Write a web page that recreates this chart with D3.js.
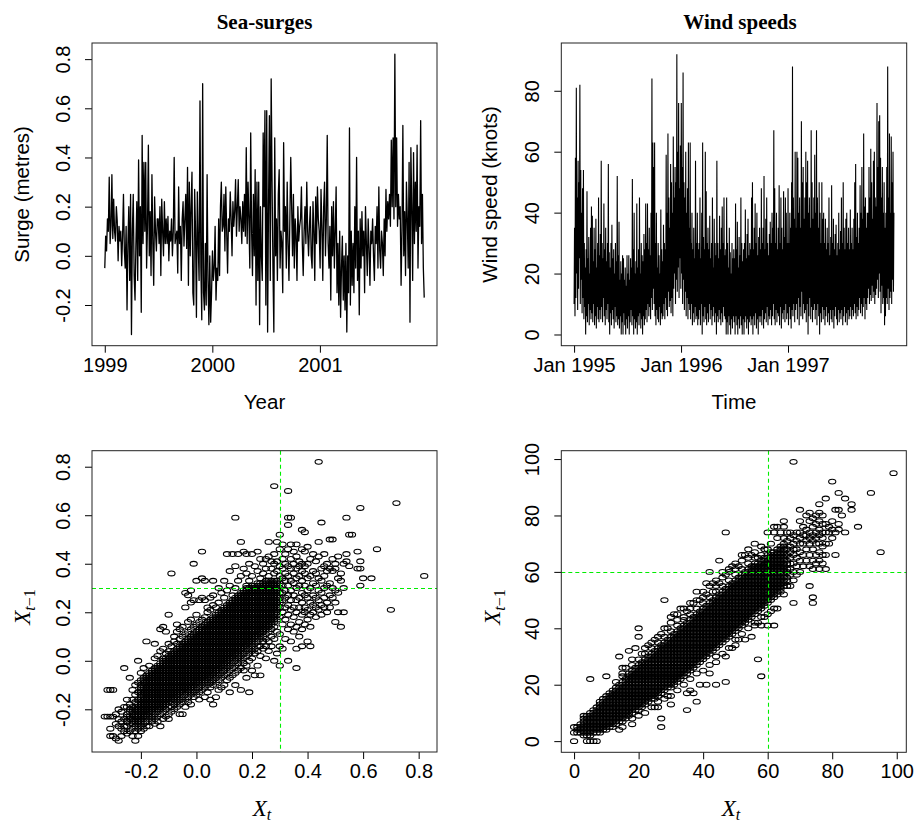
<!DOCTYPE html>
<html><head><meta charset="utf-8">
<script src="https://cdn.jsdelivr.net/npm/d3@7"></script>
<style>body{margin:0;background:#fff}</style>
</head><body>
<svg id="c" width="915" height="826"></svg>
<script>
// ---------------- DATA ----------------
// Sea surge series (metres), 1999.0 .. 2001.97
const surgeStart = 1999.0, surgeEnd = 2001.97;
const surge = [
-.05,.08,.02,.15,.1,.32,.05,.12,.33,.07,
.23,.1,.06,.2,.14,-.02,.12,.06,.1,-.04,
.08,.25,.02,-.05,.12,-.22,.05,.2,-.1,.25,
-.32,.1,.25,-.08,-.18,.05,.22,-.1,.39,0,
.2,-.23,.49,.05,.38,.1,.38,-.05,.12,.45,
0,.18,-.08,.33,.05,-.12,.24,.1,.02,.15,
.15,.05,.2,-.08,.23,.1,0,.22,.05,.15,
.05,.16,-.02,.1,.06,.15,0,.1,.4,.05,
.08,.1,-.07,.28,.05,.12,-.1,.15,.22,.04,
.15,.25,.03,.36,-.12,.3,0,.2,.34,-.15,
-.2,.27,.1,-.25,.26,.05,-.1,.63,-.05,-.26,
.7,-.15,-.22,.05,-.2,.33,-.1,-.28,0,-.27,
-.15,.02,-.1,-.05,.12,-.18,-.05,-.1,.15,-.08,
.2,.3,.1,.12,.25,.02,.28,.1,-.07,.15,
.1,.26,.15,0,.22,.12,.18,.31,.08,.2,
.31,.1,.2,.15,.05,.22,.1,.25,.08,.44,
.05,.3,.15,-.05,.5,.1,-.08,.25,0,.35,
-.2,.3,-.1,.3,-.28,.2,0,-.1,.5,.2,
.59,-.2,.59,-.31,.2,.57,-.1,.72,.3,-.05,
-.31,.48,0,.15,-.1,.25,.35,-.05,.1,.05,
-.15,.46,.1,.2,-.05,.3,.05,-.1,.15,.4,
.2,0,.25,-.05,.15,.08,-.1,.2,.06,.12,
.15,.28,.05,-.08,.1,.2,.05,.3,.1,0,
.12,.2,0,-.05,.22,.1,-.1,.24,.05,.28,
.15,.1,-.05,.27,.12,-.1,.2,.3,0,.15,
.49,.05,-.05,.12,-.18,.2,0,.22,-.05,.1,
.28,-.15,.05,-.2,.1,-.25,-.05,.08,-.18,0,
-.22,.05,-.31,0,-.15,.52,-.2,.1,-.12,.05,
-.15,.2,-.05,.4,-.1,.1,-.24,.15,-.05,.18,
0,.1,-.15,.2,.05,-.08,.15,.03,-.12,.1,
.05,.15,0,-.1,.12,.05,.2,-.05,.28,.02,
-.05,.1,.05,-.08,.15,0,.27,.1,.22,.15,
.25,.12,.47,.2,.48,.15,.82,.2,.48,.12,
.25,.15,.2,-.12,.1,.53,0,.18,-.08,.3,
.15,-.05,.38,-.27,.44,.2,-.1,.42,.05,.3,
.1,.45,-.05,.2,.12,.55,.05,.25,-.05,-.17
];

// Wind speed series (knots), Jan 1995 .. Dec 1997
const windStart = 1995.0, windEnd = 1997.99;
const wind = [
10,35,6,58,12,81,20,45,8,57,15,50,25,82,10,54,18,40,7,48,
12,54,5,30,9,22,0,28,6,47,4,25,10,32,3,20,8,35,5,42,
7,39,4,24,10,35,3,28,6,38,2,22,9,30,5,45,4,26,8,33,
5,57,9,30,4,25,12,43,6,28,3,35,8,24,5,30,10,56,4,27,
0,22,7,30,3,36,8,25,5,28,2,20,9,30,4,24,6,52,3,26,
5,37,2,18,6,24,0,20,4,26,0,25,7,18,3,22,0,16,5,26,
2,20,6,26,0,18,4,25,8,22,3,51,6,28,0,40,5,20,2,24,
4,43,0,22,6,28,3,45,7,20,2,30,5,26,0,24,6,33,3,28,
5,43,8,30,4,43,10,28,6,35,9,26,5,40,12,84,8,63,15,55,
10,63,6,30,3,40,8,22,5,30,4,26,9,20,3,41,7,28,5,24,
6,36,10,30,5,28,12,59,8,40,6,66,14,45,9,35,11,56,7,50,
12,40,6,65,15,45,20,55,10,50,18,92,14,60,22,76,12,48,25,62,
15,76,20,55,10,86,18,50,8,45,14,60,6,40,12,48,5,63,10,35,
8,63,5,30,10,40,3,28,7,35,4,25,9,57,5,30,6,40,3,28,
5,30,8,45,3,25,10,40,0,63,6,32,4,28,9,60,5,47,3,30,
7,35,4,28,10,39,5,25,8,30,3,45,6,22,9,38,4,30,7,26,
0,57,6,30,4,25,8,39,5,28,3,35,7,42,4,30,9,45,6,26,
5,28,0,45,4,30,0,22,6,35,3,27,0,20,5,30,2,25,6,28,
4,25,0,43,6,28,3,37,0,22,5,32,2,26,6,45,3,30,0,24,
5,28,0,30,4,41,6,25,2,33,5,38,0,26,4,30,6,28,3,45,
5,50,0,28,6,35,3,43,7,30,2,40,5,26,0,32,6,35,4,28,
6,48,3,30,8,35,2,52,5,28,7,38,4,45,9,30,3,26,6,33,
5,37,8,30,3,40,6,35,10,67,5,48,3,30,8,40,4,28,7,35,
6,49,3,30,9,45,2,35,7,28,5,47,8,32,4,45,10,40,5,30,
7,48,3,30,9,40,5,35,2,50,8,88,6,45,10,38,4,60,8,35,
10,60,5,58,12,40,3,45,9,35,6,70,14,50,5,55,10,38,7,45,
8,60,4,50,10,57,0,40,6,45,12,35,5,67,9,50,4,38,8,45,
10,59,5,40,8,67,3,45,10,35,6,50,0,40,7,30,4,50,9,38,
5,40,8,30,3,38,6,28,9,35,4,30,7,45,3,26,8,32,5,49,
4,30,8,38,2,28,6,33,9,36,5,26,3,30,8,40,4,28,7,34,
5,45,8,30,3,50,6,35,9,28,4,38,7,40,3,30,8,35,5,28,
6,41,9,30,5,35,8,28,6,38,10,50,7,56,5,32,9,40,6,30,
8,35,12,49,7,40,10,55,6,38,9,66,12,42,5,45,10,35,8,40,
12,40,15,55,10,45,13,61,11,50,16,38,12,57,14,60,10,45,13,42,
15,76,18,55,12,70,20,72,14,58,7,45,16,55,10,40,12,50,3,35,
6,40,12,55,10,88,15,45,8,66,12,40,14,65,10,50,18,60,14,40
];

// Lag plot of sea surge: X_t values and, for each, the X_{t-1} values seen
const surgeLagX = [-.33,-.32,-.31,-.30,-.29,-.28,-.27,-.26,-.25,-.24,-.23,-.22,-.21,-.20,-.19,-.18,-.17,-.16,-.15,-.14,-.13,-.12,-.11,-.10,-.09,-.08,-.07,-.06,-.05,-.04,-.03,-.02,-.01,0,
.01,.02,.03,.04,.05,.06,.07,.08,.09,.10,.11,.12,.13,.14,.15,.16,.17,.18,.19,.20,.21,.22,.23,.24,.25,.26,.27,.28,.29,.30,
.31,.32,.33,.34,.35,.36,.37,.38,.39,.40,.41,.42,.43,.44,.45,.46,.47,.48,.49,.50,.51,.52,.53,.54,.55,.56,.58,.59,.60,.63,.65,.70,.72,.82];
const surgeLagY = [
[-.23],
[-.23,-.12],
[-.31,-.28,-.23,-.12],
[-.31,-.23,-.12],
[-.32,-.26,-.22],
[-.33,-.27,-.24,-.2],
[-.31,-.28,-.25,-.21],
[-.29,-.27,-.24,-.19,-.03],
[-.3,-.27,-.25,-.23,-.22,-.19,-.16],
[-.29,-.26,-.24,-.23,-.21,-.2,-.18,-.07],
[-.31,-.28,-.26,-.25,-.24,-.22,-.21,-.19,-.16,-.12],
[-.33,-.29,-.27,-.25,-.24,-.23,-.22,-.21,-.2,-.19,-.17,-.14,-.1],
[-.31,-.28,-.26,-.25,-.24,-.23,-.22,-.21,-.2,-.19,-.18,-.16,-.13,-.09,0],
[-.29,-.27,-.25,-.24,-.23,-.22,-.21,-.2,-.19,-.18,-.17,-.16,-.15,-.14,-.13,-.12,-.11,-.1,-.08,-.05],
[-.28,-.26,-.24,-.23,-.22,-.21,-.2,-.19,-.18,-.17,-.16,-.15,-.14,-.13,-.12,-.11,-.1,-.09,-.08,-.07,-.03],
[-.27,-.25,-.23,-.22,-.21,-.2,-.19,-.18,-.17,-.16,-.15,-.14,-.13,-.12,-.11,-.1,-.09,-.08,-.07,-.06,.08],
[-.27,-.24,-.22,-.21,-.2,-.19,-.18,-.17,-.16,-.15,-.14,-.13,-.12,-.11,-.1,-.09,-.08,-.07,-.06,-.05,-.02],
[-.25,-.23,-.21,-.2,-.19,-.18,-.17,-.16,-.15,-.14,-.13,-.12,-.11,-.1,-.09,-.08,-.07,-.06,-.05,-.04],
[-.26,-.24,-.22,-.2,-.19,-.18,-.17,-.16,-.15,-.14,-.13,-.12,-.11,-.1,-.09,-.08,-.07,-.06,-.05,-.04,-.03,.01,.07],
[-.25,-.23,-.21,-.2,-.19,-.18,-.17,-.16,-.15,-.14,-.13,-.12,-.11,-.1,-.09,-.08,-.07,-.06,-.05,-.04,-.03,-.02,.02],
[-.27,-.22,-.2,-.19,-.18,-.17,-.16,-.15,-.14,-.13,-.12,-.11,-.1,-.09,-.08,-.07,-.06,-.05,-.04,-.03,-.02,-.01,.04,.13],
[-.24,-.21,-.19,-.18,-.17,-.16,-.15,-.14,-.13,-.12,-.11,-.1,-.09,-.08,-.07,-.06,-.05,-.04,-.03,-.02,-.01,0,.01,.05,.14],
[-.23,-.2,-.18,-.17,-.16,-.15,-.14,-.13,-.12,-.11,-.1,-.09,-.08,-.07,-.06,-.05,-.04,-.03,-.02,-.01,0,.01,.03,.12],
[-.24,-.22,-.19,-.17,-.16,-.15,-.14,-.13,-.12,-.11,-.1,-.09,-.08,-.07,-.06,-.05,-.04,-.03,-.02,-.01,0,.01,.02,.04,.07,.19],
[-.21,-.19,-.17,-.16,-.15,-.14,-.13,-.12,-.11,-.1,-.09,-.08,-.07,-.06,-.05,-.04,-.03,-.02,-.01,0,.01,.02,.03,.06,.36],
[-.2,-.18,-.16,-.15,-.14,-.13,-.12,-.11,-.1,-.09,-.08,-.07,-.06,-.05,-.04,-.03,-.02,-.01,0,.01,.02,.03,.04,.08,.1],
[-.19,-.17,-.15,-.14,-.13,-.12,-.11,-.1,-.09,-.08,-.07,-.06,-.05,-.04,-.03,-.02,-.01,0,.01,.02,.03,.04,.05,.07,.12,.15],
[-.22,-.18,-.16,-.14,-.13,-.12,-.11,-.1,-.09,-.08,-.07,-.06,-.05,-.04,-.03,-.02,-.01,0,.01,.02,.03,.04,.05,.06,.09,.13],
[-.22,-.17,-.15,-.13,-.12,-.11,-.1,-.09,-.08,-.07,-.06,-.05,-.04,-.03,-.02,-.01,0,.01,.02,.03,.04,.05,.06,.07,.1,.14],
[-.19,-.16,-.14,-.12,-.11,-.1,-.09,-.08,-.07,-.06,-.05,-.04,-.03,-.02,-.01,0,.01,.02,.03,.04,.05,.06,.07,.08,.11,.22,.28],
[-.17,-.15,-.13,-.12,-.11,-.1,-.09,-.08,-.07,-.06,-.05,-.04,-.03,-.02,-.01,0,.01,.02,.03,.04,.05,.06,.07,.08,.09,.12,.16,.27],
[-.18,-.14,-.12,-.11,-.1,-.09,-.08,-.07,-.06,-.05,-.04,-.03,-.02,-.01,0,.01,.02,.03,.04,.05,.06,.07,.08,.09,.1,.13,.17,.24,.29],
[-.15,-.13,-.11,-.1,-.09,-.08,-.07,-.06,-.05,-.04,-.03,-.02,-.01,0,.01,.02,.03,.04,.05,.06,.07,.08,.09,.1,.11,.14,.25,.4],
[-.14,-.12,-.1,-.09,-.08,-.07,-.06,-.05,-.04,-.03,-.02,-.01,0,.01,.02,.03,.04,.05,.06,.07,.08,.09,.1,.11,.12,.15,.19,.33],
[-.16,-.13,-.11,-.09,-.08,-.07,-.06,-.05,-.04,-.03,-.02,-.01,0,.01,.02,.03,.04,.05,.06,.07,.08,.09,.1,.11,.12,.13,.16,.25],
[-.12,-.1,-.08,-.07,-.06,-.05,-.04,-.03,-.02,-.01,0,.01,.02,.03,.04,.05,.06,.07,.08,.09,.1,.11,.12,.13,.14,.17,.26,.34,.45],
[-.15,-.11,-.09,-.08,-.07,-.06,-.05,-.04,-.03,-.02,-.01,0,.01,.02,.03,.04,.05,.06,.07,.08,.09,.1,.11,.12,.13,.14,.15,.18,.25,.33],
[-.13,-.1,-.08,-.07,-.06,-.05,-.04,-.03,-.02,-.01,0,.01,.02,.03,.04,.05,.06,.07,.08,.09,.1,.11,.12,.13,.14,.15,.16,.2,.22],
[-.16,-.11,-.09,-.07,-.06,-.05,-.04,-.03,-.02,-.01,0,.01,.02,.03,.04,.05,.06,.07,.08,.09,.1,.11,.12,.13,.14,.15,.16,.17,.21,.26],
[-.18,-.1,-.08,-.06,-.05,-.04,-.03,-.02,-.01,0,.01,.02,.03,.04,.05,.06,.07,.08,.09,.1,.11,.12,.13,.14,.15,.16,.17,.18,.23,.27,.33],
[-.15,-.09,-.07,-.05,-.04,-.03,-.02,-.01,0,.01,.02,.03,.04,.05,.06,.07,.08,.09,.1,.11,.12,.13,.14,.15,.16,.17,.18,.19,.22],
[-.12,-.08,-.06,-.04,-.03,-.02,-.01,0,.01,.02,.03,.04,.05,.06,.07,.08,.09,.1,.11,.12,.13,.14,.15,.16,.17,.18,.19,.2,.24,.3],
[-.11,-.07,-.05,-.03,-.02,-.01,0,.01,.02,.03,.04,.05,.06,.07,.08,.09,.1,.11,.12,.13,.14,.15,.16,.17,.18,.19,.2,.21,.28],
[-.1,-.06,-.04,-.02,-.01,0,.01,.02,.03,.04,.05,.06,.07,.08,.09,.1,.11,.12,.13,.14,.15,.16,.17,.18,.19,.2,.21,.22,.26,.33],
[-.08,-.05,-.03,-.01,0,.01,.02,.03,.04,.05,.06,.07,.08,.09,.1,.11,.12,.13,.14,.15,.16,.17,.18,.19,.2,.21,.22,.23,.29,.44],
[-.13,-.07,-.04,-.02,0,.01,.02,.03,.04,.05,.06,.07,.08,.09,.1,.11,.12,.13,.14,.15,.16,.17,.18,.19,.2,.21,.22,.23,.24,.31,.37],
[-.06,-.03,-.01,.01,.02,.03,.04,.05,.06,.07,.08,.09,.1,.11,.12,.13,.14,.15,.16,.17,.18,.19,.2,.21,.22,.23,.24,.25,.27,.44],
[-.1,-.05,-.02,0,.02,.03,.04,.05,.06,.07,.08,.09,.1,.11,.12,.13,.14,.15,.16,.17,.18,.19,.2,.21,.22,.23,.24,.25,.26,.3,.39,.59],
[-.04,-.01,.01,.03,.04,.05,.06,.07,.08,.09,.1,.11,.12,.13,.14,.15,.16,.17,.18,.19,.2,.21,.22,.23,.24,.25,.26,.27,.33,.44],
[-.12,-.03,0,.02,.04,.05,.06,.07,.08,.09,.1,.11,.12,.13,.14,.15,.16,.17,.18,.19,.2,.21,.22,.23,.24,.25,.26,.27,.28,.35,.49],
[-.04,-.01,.01,.03,.05,.06,.07,.08,.09,.1,.11,.12,.13,.14,.15,.16,.17,.18,.19,.2,.21,.22,.23,.24,.25,.26,.27,.28,.29,.38,.45],
[-.07,-.02,.02,.04,.06,.07,.08,.09,.1,.11,.12,.13,.14,.15,.16,.17,.18,.19,.2,.21,.22,.23,.24,.25,.26,.27,.28,.29,.3,.31,.36,.44],
[-.13,0,.03,.05,.07,.08,.09,.1,.11,.12,.13,.14,.15,.16,.17,.18,.19,.2,.21,.22,.23,.24,.25,.26,.27,.28,.29,.3,.33,.4],
[-.04,.01,.04,.06,.08,.09,.1,.11,.12,.13,.14,.15,.16,.17,.18,.19,.2,.21,.22,.23,.24,.25,.26,.27,.28,.29,.3,.31,.35,.44],
[-.06,.03,.05,.07,.09,.1,.11,.12,.13,.14,.15,.16,.17,.18,.19,.2,.21,.22,.23,.24,.25,.26,.27,.28,.29,.3,.31,.39],
[-.02,.04,.06,.08,.1,.11,.12,.13,.14,.15,.16,.17,.18,.19,.2,.21,.22,.23,.24,.25,.26,.27,.28,.29,.3,.31,.32,.37,.45],
[-.06,.02,.06,.09,.11,.12,.13,.14,.15,.16,.17,.18,.19,.2,.21,.22,.23,.24,.25,.26,.27,.28,.29,.3,.31,.32,.34,.42],
[.05,.08,.1,.12,.13,.14,.15,.16,.17,.18,.19,.2,.21,.22,.23,.24,.25,.26,.27,.28,.29,.3,.31,.32,.36,.4],
[.01,.06,.09,.11,.13,.14,.15,.16,.17,.18,.19,.2,.21,.22,.23,.24,.25,.26,.27,.28,.29,.3,.31,.32,.33,.38,.42],
[.04,.08,.12,.14,.15,.16,.17,.18,.19,.2,.21,.22,.23,.24,.25,.26,.27,.28,.29,.3,.31,.32,.33,.35,.43,.49],
[.06,.1,.13,.15,.16,.17,.18,.19,.2,.21,.22,.23,.24,.25,.26,.27,.28,.29,.3,.31,.32,.33,.38,.41],
[0,.09,.14,.16,.17,.18,.19,.2,.21,.22,.23,.24,.25,.26,.27,.28,.29,.3,.31,.32,.33,.36,.4,.44,.72],
[.03,.12,.17,.19,.2,.21,.22,.23,.24,.25,.26,.27,.28,.29,.3,.31,.32,.33,.37,.41,.49],
[-.02,.06,.11,.18,.22,.24,.26,.28,.3,.32,.35,.39,.46,.52],
[.05,.15,.2,.25,.28,.31,.34,.38,.42,.48],
[.09,.17,.22,.26,.29,.33,.36,.4,.44],
[0,.13,.19,.23,.27,.31,.35,.39,.46,.56,.59,.7],
[.08,.15,.21,.25,.29,.33,.38,.42,.48,.59],
[.12,.18,.22,.27,.32,.36,.4,.45],
[-.03,.05,.14,.2,.25,.3,.34,.38,.43,.48],
[.1,.16,.22,.26,.31,.35,.39,.41],
[.06,.13,.19,.24,.28,.33,.37,.4,.46,.54],
[.15,.2,.22,.27,.31,.36,.39,.45,.53],
[.08,.17,.21,.26,.29,.34,.4,.47],
[.06,.14,.19,.24,.3,.35,.42],
[.2,.23,.27,.32,.37,.44],
[.18,.22,.26,.31,.36,.41],
[.21,.25,.29,.34,.43,.49,.82],
[.19,.23,.28,.33,.38,.57],
[.22,.26,.3,.35,.39,.44],
[.2,.24,.31,.37,.4],
[.22,.27,.32,.38,.5],
[.26,.3,.37,.42,.5],
[.16,.24,.29,.38,.4],
[.2,.28,.34,.43],
[.14,.33,.36],
[.2,.3,.4],
[.41,.44,.59],
[.39,.52],
[.52],
[.38,.45],
[.31,.38,.41,.63],
[.34],
[.34],
[.46],
[.21],
[.65],
[.35]
];

// Lag plot of wind speed (knots)
const windLagX = [0,1,2,3,4,5,6,7,8,9,10,11,12,13,14,15,16,17,18,19,20,21,22,23,24,25,26,27,28,29,30,
31,32,33,34,35,36,37,38,39,40,41,42,43,44,45,46,47,48,49,50,51,52,53,54,55,56,57,58,59,60,
61,62,63,64,65,66,67,68,69,70,71,72,73,74,75,76,77,78,79,80,81,82,83,84,86,88,92,95,99];
const windLagY = [
[0,3,5],
[3,4,5],
[3,4,5,6],
[2,3,4,5,6,7,8,9],
[0,2,3,4,5,6,7,8,9],
[0,2,3,4,5,6,7,8,9,10,22],
[0,3,4,5,6,7,8,9,10,11],
[0,3,4,5,6,7,8,9,10,11,12],
[3,4,5,6,7,8,9,10,11,12,13,14],
[4,5,6,7,8,9,10,11,12,13,14,15],
[4,5,6,7,8,9,10,11,12,13,14,15,16,23],
[5,6,7,8,9,10,11,12,13,14,15,16,17],
[5,6,7,8,9,10,11,12,13,14,15,16,17,18],
[6,7,8,9,10,11,12,13,14,15,16,17,18,19,21],
[4,7,8,9,10,11,12,13,14,15,16,17,18,19,20,30],
[5,7,8,9,10,11,12,13,14,15,16,17,18,19,20,21,23,24,26],
[8,9,10,11,12,13,14,15,16,17,18,19,20,21,22,26],
[9,10,11,12,13,14,15,16,17,18,19,20,21,22,23,24,32],
[6,8,10,11,12,13,14,15,16,17,18,19,20,21,22,23,24,25,27,29],
[11,12,13,14,15,16,17,18,19,20,21,22,23,24,25,26,33],
[9,11,12,13,14,15,16,17,18,19,20,21,22,23,24,25,26,27,29,37,40],
[12,13,14,15,16,17,18,19,20,21,22,23,24,25,26,27,28,31],
[10,13,14,15,16,17,18,19,20,21,22,23,24,25,26,27,28,29,31,33],
[14,15,16,17,18,19,20,21,22,23,24,25,26,27,28,29,30,34],
[12,15,16,17,18,19,20,21,22,23,24,25,26,27,28,29,30,31,33,35],
[12,15,16,17,18,19,20,21,22,23,24,25,26,27,28,29,30,31,32,36],
[12,14,16,17,18,19,20,21,22,23,24,25,26,27,28,29,30,31,32,33,35,37],
[5,8,17,18,19,20,21,22,23,24,25,26,27,28,29,30,31,32,33,34,38],
[15,18,19,20,21,22,23,24,25,26,27,28,29,30,31,32,33,34,35,37,40,50],
[16,19,20,21,22,23,24,25,26,27,28,29,30,31,32,33,34,35,36,40],
[13,16,19,20,21,22,23,24,25,26,27,28,29,30,31,32,33,34,35,36,37,39,42,44],
[20,21,22,23,24,25,26,27,28,29,30,31,32,33,34,35,36,37,38,45],
[18,21,22,23,24,25,26,27,28,29,30,31,32,33,34,35,36,37,38,39,41,43,45],
[22,23,24,25,26,27,28,29,30,31,32,33,34,35,36,37,38,39,40,47],
[20,23,24,25,26,27,28,29,30,31,32,33,34,35,36,37,38,39,40,41,43,44,47],
[11,17,24,25,26,27,28,29,30,31,32,33,34,35,36,37,38,39,40,41,42,46],
[18,22,25,26,27,28,29,30,31,32,33,34,35,36,37,38,39,40,41,42,43,45,47,49],
[17,26,27,28,29,30,31,32,33,34,35,36,37,38,39,40,41,42,43,44,49],
[14,24,27,28,29,30,31,32,33,34,35,36,37,38,39,40,41,42,43,44,45,47,50,53],
[20,28,29,30,31,32,33,34,35,36,37,38,39,40,41,42,43,44,45,46,50],
[25,29,30,31,32,33,34,35,36,37,38,39,40,41,42,43,44,45,46,47,49,51,53],
[20,30,31,32,33,34,35,36,37,38,39,40,41,42,43,44,45,46,47,48,52,56],
[24,27,31,32,33,34,35,36,37,38,39,40,41,42,43,44,45,46,47,48,49,51,55,60],
[32,33,34,35,36,37,38,39,40,41,42,43,44,45,46,47,48,49,50,53,56],
[20,28,30,33,34,35,36,37,38,39,40,41,42,43,44,45,46,47,48,49,50,51,53,55,57],
[34,35,36,37,38,39,40,41,42,43,44,45,46,47,48,49,50,51,52,56,64],
[31,35,36,37,38,39,40,41,42,43,44,45,46,47,48,49,50,51,52,53,55,58,60],
[21,30,36,37,38,39,40,41,42,43,44,45,46,47,48,49,50,51,52,53,54,59,74],
[33,37,38,39,40,41,42,43,44,45,46,47,48,49,50,51,52,53,54,55,57,60,61],
[33,38,39,40,41,42,43,44,45,46,47,48,49,50,51,52,53,54,55,56,62],
[34,36,39,40,41,42,43,44,45,46,47,48,49,50,51,52,53,54,55,56,57,59,61,63],
[36,40,41,42,43,44,45,46,47,48,49,50,51,52,53,54,55,56,57,58,62],
[38,41,42,43,44,45,46,47,48,49,50,51,52,53,54,55,56,57,58,59,61,64,66],
[36,42,43,44,45,46,47,48,49,50,51,52,53,54,55,56,57,58,59,60,66],
[40,43,44,45,46,47,48,49,50,51,52,53,54,55,56,57,58,59,60,61,63,65,68],
[37,44,45,46,47,48,49,50,51,52,53,54,55,56,57,58,59,60,61,62,66],
[41,42,45,46,47,48,49,50,51,52,53,54,55,56,57,58,59,60,61,62,63,65,67,70],
[29,42,46,47,48,49,50,51,52,53,54,55,56,57,58,59,60,61,62,63,65],
[23,41,44,47,48,49,50,51,52,53,54,55,56,57,58,59,60,61,62,63,64,66,69],
[44,48,49,50,51,52,53,54,55,56,57,58,59,60,61,62,63,64,65,68],
[41,45,49,50,51,52,53,54,55,56,57,58,59,60,61,62,63,64,65,66,68,74],
[46,50,51,52,53,54,55,56,57,58,59,60,61,62,63,64,65,66,67,70],
[41,47,51,52,53,54,55,56,57,58,59,60,61,62,63,64,65,66,67,74,76],
[47,52,53,54,55,56,57,58,59,60,61,62,63,64,65,66,67,68,72,76],
[53,54,55,56,57,58,59,60,61,62,63,64,65,66,67,68,69,74],
[52,55,56,57,58,59,60,61,62,63,64,65,66,67,68,69,70,72,76,78],
[55,57,58,60,61,63,64,66,68,71,74],
[55,59,61,63,65,67,69,72,74],
[49,57,60,63,66,68,70,73,99],
[59,62,65,68,71,74],
[60,64,67,70,72,74,78,82],
[62,66,70,73,76],
[64,68,71,73,75,80],
[55,62,66,70,72,74,78,81],
[49,51,61,64,68,71,73,76,79],
[63,66,70,72,74,77,80],
[61,64,67,70,73,75,78,81,84],
[63,66,69,72,74,77,80],
[61,66,70,74,77,86],
[70,74,76],
[72,75,78,92],
[66,74,82],
[75,77,82,88],
[80],
[74,86],
[82,84],
[76],
[88],
[67],
[95]
];

// Axis ticks / labels / thresholds
const surgeYTicks = [-0.2, 0.0, 0.2, 0.4, 0.6, 0.8];
const surgeXTicks = [1999, 2000, 2001];
const surgeXLabels = ["1999", "2000", "2001"];
const windYTicks = [0, 20, 40, 60, 80];
const windXTicks = [1995, 1996, 1997];
const windXLabels = ["Jan 1995", "Jan 1996", "Jan 1997"];
const lagSurgeTicks = [-0.2, 0.0, 0.2, 0.4, 0.6, 0.8];
const lagWindTicks = [0, 20, 40, 60, 80, 100];
const surgeThreshold = 0.3, windThreshold = 60;

// ---------------- DRAWING ----------------
const SANS = "'Liberation Sans', Arial, Helvetica, sans-serif";
const SERIF = "'Liberation Serif', 'Times New Roman', serif";
const svg = d3.select("#c");
svg.append("rect").attr("width",915).attr("height",826).attr("fill","#fff");

const P = {
  tl:{x0:92, x1:437, y0:43, y1:345.7},
  tr:{x0:561.3, x1:906.7, y0:43, y1:345.7},
  bl:{x0:92, x1:437, y0:450.7, y1:752},
  br:{x0:561.3, x1:906.3, y0:450.7, y1:752.3}
};
function padR(ext){ const d=(ext[1]-ext[0])*0.04; return [ext[0]-d, ext[1]+d]; }

const f1 = v => v.toFixed(1);
function axes(p, x, y, xt, xfmt, yt, yfmt){
  const g = svg.append("g");
  const ax = g.append("g").attr("transform",`translate(0,${p.y1})`)
    .call(d3.axisBottom(x).tickValues(xt).tickFormat(xfmt).tickSize(7).tickSizeOuter(0));
  ax.select(".domain").remove();
  ax.attr("font-size",20).attr("font-family",SANS);
  ax.selectAll("line").attr("stroke","#000");
  ax.selectAll("text").attr("y",26).attr("dy",0).attr("fill","#000");
  const ay = g.append("g").attr("transform",`translate(${p.x0},0)`)
    .call(d3.axisLeft(y).tickValues(yt).tickFormat(yfmt).tickSize(7).tickSizeOuter(0));
  ay.select(".domain").remove();
  ay.attr("font-size",20).attr("font-family",SANS);
  ay.selectAll("line").attr("stroke","#000");
  ay.selectAll("text").attr("x",0).attr("y",-22.5).attr("dy",0)
    .attr("text-anchor","middle").attr("transform","rotate(-90)").attr("fill","#000");
  g.append("rect").attr("x",p.x0).attr("y",p.y0).attr("width",p.x1-p.x0).attr("height",p.y1-p.y0)
    .attr("fill","none").attr("stroke","#222").attr("stroke-width",1);
}
function title(txt, cx){
  svg.append("text").attr("x",cx).attr("y",29).attr("text-anchor","middle")
    .attr("font-family",SERIF).attr("font-weight","bold").attr("font-size",21).text(txt);
}
function xTitle(txt, cx, yb){
  svg.append("text").attr("x",cx).attr("y",yb).attr("text-anchor","middle")
    .attr("font-family",SANS).attr("font-size",20.5).text(txt);
}
function yTitle(txt, xb, cy){
  svg.append("text").attr("transform",`translate(${xb},${cy}) rotate(-90)`).attr("text-anchor","middle")
    .attr("font-family",SANS).attr("font-size",20.5).text(txt);
}
function lagXTitle(cx, yb){
  const t = svg.append("text").attr("x",cx).attr("y",yb).attr("text-anchor","middle")
    .attr("font-family",SERIF).attr("font-size",23);
  t.append("tspan").attr("font-style","italic").text("X");
  t.append("tspan").attr("font-style","italic").attr("font-size",16).attr("dy",4).text("t");
}
function lagYTitle(xb, cy){
  const t = svg.append("text").attr("transform",`translate(${xb},${cy}) rotate(-90)`).attr("text-anchor","middle")
    .attr("font-family",SERIF).attr("font-size",23);
  t.append("tspan").attr("font-style","italic").text("X");
  t.append("tspan").attr("font-style","italic").attr("font-size",16).attr("dy",5).text("t");
  t.append("tspan").attr("font-size",16).text("\u22121");
}

// ---- Panel 1: Sea-surges series
{
  const p = P.tl, n = surge.length, step = (surgeEnd - surgeStart)/(n-1);
  const x = d3.scaleLinear().domain(padR([surgeStart, surgeEnd])).range([p.x0, p.x1]);
  const y = d3.scaleLinear().domain(padR(d3.extent(surge))).range([p.y1, p.y0]);
  svg.append("path").datum(surge).attr("fill","none").attr("stroke","#000").attr("stroke-width",1.3)
    .attr("stroke-linejoin","round")
    .attr("d", d3.line().x((d,i)=>x(surgeStart + i*step)).y(d=>y(d)));
  axes(p, x, y, surgeXTicks, (d,i)=>surgeXLabels[i], surgeYTicks, f1);
  title("Sea-surges", 264.5);
  xTitle("Year", 264.5, 409);
  yTitle("Surge (metres)", 29, 194.4);
}
// ---- Panel 2: Wind speeds series
{
  const p = P.tr, n = wind.length, step = (windEnd - windStart)/(n-1);
  const x = d3.scaleLinear().domain(padR([windStart, windEnd])).range([p.x0, p.x1]);
  const y = d3.scaleLinear().domain(padR([0, d3.max(wind)])).range([p.y1, p.y0]);
  svg.append("path").datum(wind).attr("fill","none").attr("stroke","#000").attr("stroke-width",1.1)
    .attr("d", d3.line().x((d,i)=>x(windStart + i*step)).y(d=>y(d)));
  axes(p, x, y, windXTicks, (d,i)=>windXLabels[i], windYTicks, d=>String(d));
  title("Wind speeds", 740);
  xTitle("Time", 734, 409);
  yTitle("Wind speed (knots)", 497, 194.4);
}
// ---- Lag scatter helper
function lagPanel(p, xs, ys, ticks, fmt, thr){
  const pts = [];
  xs.forEach((xv,i)=>ys[i].forEach(yv=>pts.push([xv,yv])));
  const x = d3.scaleLinear().domain(padR(d3.extent(pts, d=>d[0]))).range([p.x0, p.x1]);
  const y = d3.scaleLinear().domain(padR(d3.extent(pts, d=>d[1]))).range([p.y1, p.y0]);
  svg.append("g").selectAll("ellipse").data(pts).join("ellipse")
    .attr("cx", d=>x(d[0])).attr("cy", d=>y(d[1])).attr("rx",3.6).attr("ry",2.4)
    .attr("fill","none").attr("stroke","#000").attr("stroke-width",1.1);
  const gl = svg.append("g").attr("stroke","#00ee00").attr("stroke-width",1.1).attr("stroke-dasharray","4,3");
  const xv = Math.round(x(thr)) + 0.5, yv = Math.round(y(thr)) + 0.5;
  gl.append("line").attr("x1",xv).attr("x2",xv).attr("y1",p.y0).attr("y2",p.y1);
  gl.append("line").attr("x1",p.x0).attr("x2",p.x1).attr("y1",yv).attr("y2",yv);
  axes(p, x, y, ticks, fmt, ticks, fmt);
}
lagPanel(P.bl, surgeLagX, surgeLagY, lagSurgeTicks, f1, surgeThreshold);
lagXTitle(262, 816);
lagYTitle(30, 607);
lagPanel(P.br, windLagX, windLagY, lagWindTicks, d=>String(d), windThreshold);
lagXTitle(731, 816);
lagYTitle(500, 607);
</script>
</body></html>
